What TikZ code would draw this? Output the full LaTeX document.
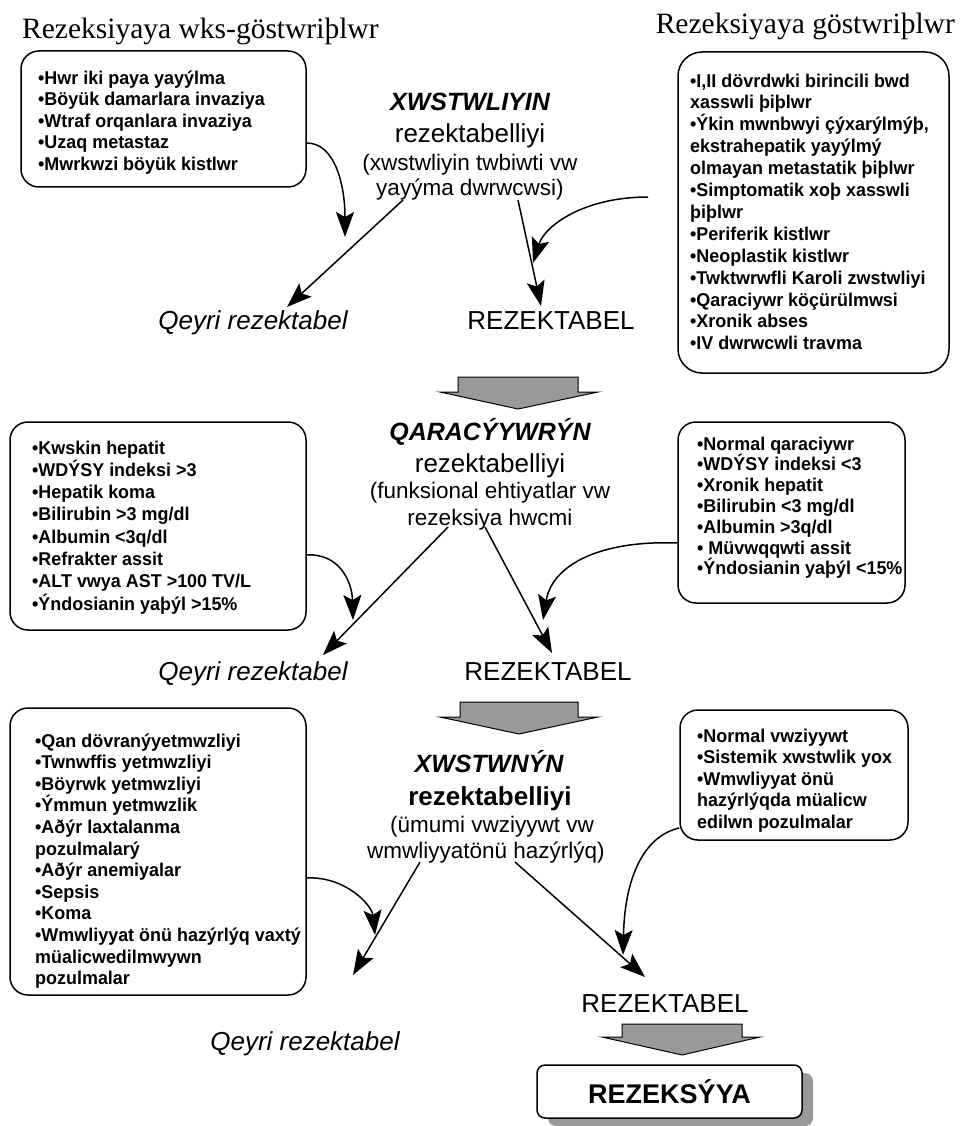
\documentclass[tikz,border=0pt]{standalone}
\usepackage{fontspec}
\setmainfont{Liberation Serif}
\newfontfamily\arial{Liberation Sans}
\newfontfamily\boxfont{Liberation Sans}[FakeStretch=0.97]
\usetikzlibrary{arrows.meta,shadows}
\definecolor{arrgray}{HTML}{999999}
\begin{document}
\begin{tikzpicture}[x=1pt,y=-1pt,
  frame/.style={draw, line width=1.5pt, rounded corners=18pt, inner sep=0pt},
  btext/.style={anchor=base west, align=left, inner sep=0pt, font=\boxfont\bfseries\fontsize{18.5}{21.6}\selectfont},
  hdr/.style={font=\fontsize{29.5}{34}\selectfont, inner sep=0pt},
  ttl/.style={anchor=base, inner sep=0pt, font=\arial\bfseries\itshape\fontsize{25}{30}\selectfont},
  sub/.style={anchor=base, inner sep=0pt, font=\arial\fontsize{26}{30}\selectfont},
  subb/.style={anchor=base, inner sep=0pt, font=\arial\bfseries\fontsize{26}{30}\selectfont},
  paren/.style={anchor=base, inner sep=0pt, font=\arial\fontsize{22.5}{26}\selectfont},
  lbl/.style={anchor=base, inner sep=0pt, font=\arial\fontsize{26}{30}\selectfont},
  qlbl/.style={anchor=base, inner sep=0pt, font=\arial\itshape\fontsize{26}{30}\selectfont},
  arr/.style={line width=1.5pt, -{Stealth[length=25pt,width=18pt,inset=5pt]}},
  blk/.style={draw=black, line width=1pt, fill=arrgray, line join=miter}
]
\fill[white] (0,0) rectangle (960,1126);
\useasboundingbox (0,0) rectangle (960,1126);

% headers
\node[hdr, anchor=base west] (h1) at (22,39) {Rezeksiyaya wks-göstwriþlwr};
\node[hdr, anchor=base east] (h2) at (955,34) {Rezeksiyaya göstwriþlwr};

% frames
\node[frame, minimum width=285pt, minimum height=136pt] (b1) at (163.5,119) {};
\node[frame, rounded corners=24pt, minimum width=271pt, minimum height=321pt] (b2) at (813.5,212.5) {};
\node[frame, minimum width=296pt, minimum height=208pt] (b3) at (158,526) {};
\node[frame, minimum width=227pt, minimum height=181pt] (b4) at (791.5,512.5) {};
\node[frame, minimum width=296pt, minimum height=287pt] (b5) at (158,851.5) {};
\node[frame, minimum width=228pt, minimum height=130pt] (b6) at (794,775) {};

% box texts (anchored at the baseline of their last line)
\node[btext] (b1t) at (38,170.4) {•Hwr iki paya yayýlma\\•Böyük damarlara invaziya\\•Wtraf orqanlara invaziya\\•Uzaq metastaz\\•Mwrkwzi böyük kistlwr};
\node[btext, font=\boxfont\bfseries\fontsize{18.5}{21.9}\selectfont] (b2t) at (690,349.8) {•I,II dövrdwki birincili bwd\\xasswli þiþlwr\\•Ýkin mwnbwyi çýxarýlmýþ,\\ekstrahepatik yayýlmý\\olmayan metastatik þiþlwr\\•Simptomatik xoþ xasswli\\þiþlwr\\•Periferik kistlwr\\•Neoplastik kistlwr\\•Twktwrwfli Karoli zwstwliyi\\•Qaraciywr köçürülmwsi\\•Xronik abses\\•IV dwrwcwli travma};
\node[btext, font=\boxfont\bfseries\fontsize{18.5}{22.3}\selectfont] (b3t) at (32,610.1) {•Kwskin hepatit\\•WDÝSY indeksi >3\\•Hepatik koma\\•Bilirubin >3 mg/dl\\•Albumin <3q/dl\\•Refrakter assit\\•ALT vwya AST >100 TV/L\\•Ýndosianin yaþýl >15\%};
\node[btext, font=\boxfont\bfseries\fontsize{18.5}{20.8}\selectfont] (b4t) at (697,574.8) {•Normal qaraciywr\\•WDÝSY indeksi <3\\•Xronik hepatit\\•Bilirubin <3 mg/dl\\•Albumin >3q/dl\\• Müvwqqwti assit\\•Ýndosianin yaþýl <15\%};
\node[btext] (b5t) at (35,984.6) {•Qan dövranýyetmwzliyi\\•Twnwffis yetmwzliyi\\•Böyrwk yetmwzliyi\\•Ýmmun yetmwzlik\\•Aðýr laxtalanma\\pozulmalarý\\•Aðýr anemiyalar\\•Sepsis\\•Koma\\•Wmwliyyat önü hazýrlýq vaxtý\\müalicwedilmwywn\\pozulmalar};
\node[btext] (b6t) at (697,828.4) {•Normal vwziyywt\\•Sistemik xwstwlik yox\\•Wmwliyyat önü\\hazýrlýqda müalicw\\edilwn pozulmalar};

% titles
\node[ttl] (t1) at (470,111) {XWSTWLIYIN};
\node[sub] (t1b) at (470,143) {rezektabelliyi};
\node[paren] (t1c) at (470,171) {(xwstwliyin twbiwti vw};
\node[paren] (t1d) at (470,196) {yayýma dwrwcwsi)};

\node[ttl] (t2) at (490,440) {QARACÝYWRÝN};
\node[sub] (t2b) at (490,472) {rezektabelliyi};
\node[paren] (t2c) at (490,498) {(funksional ehtiyatlar vw};
\node[paren] (t2d) at (490,525) {rezeksiya hwcmi};

\node[ttl] (t3) at (489,772) {XWSTWNÝN};
\node[subb] (t3b) at (490,805) {rezektabelliyi};
\node[paren] (t3c) at (492,832) {(ümumi vwziyywt vw};
\node[paren] (t3d) at (486,858) {wmwliyyatönü hazýrlýq)};

% outcome labels
\node[qlbl] (q1) at (253,329) {Qeyri rezektabel};
\node[lbl] (r1) at (551,329) {REZEKTABEL};
\node[qlbl] (q2) at (253,680) {Qeyri rezektabel};
\node[lbl] (r2) at (548,680) {REZEKTABEL};
\node[qlbl] (q3) at (305,1050) {Qeyri rezektabel};
\node[lbl] (r3) at (665,1012) {REZEKTABEL};

% final box
\node[draw, fill=white, line width=1.5pt, rounded corners=8pt, minimum width=265pt, minimum height=53pt,
      drop shadow={shadow xshift=11pt, shadow yshift=-8pt, opacity=1, fill=arrgray},
      font=\arial\bfseries\fontsize{27}{30}\selectfont] (rz) at (669.5,1091.5) {REZEKSÝYA};

% block arrows
\filldraw[blk] (458,377) -- (578,377) -- (578,392) -- (598,392) -- (518,409) -- (440,392) -- (458,392) -- cycle;
\filldraw[blk] (460,702) -- (578,702) -- (578,717) -- (598,717) -- (519,734) -- (440,717) -- (460,717) -- cycle;
\filldraw[blk] (622,1024) -- (742,1024) -- (742,1037) -- (760,1037) -- (682,1055) -- (602,1037) -- (622,1037) -- cycle;

% connector end points
\coordinate (s1a) at (403,200); \coordinate (e1a) at (287,307);
\coordinate (s1b) at (518,200); \coordinate (e1b) at (541,306);
\coordinate (e1c) at (345,237);
\coordinate (s1d) at (648,197); \coordinate (e1d) at (533,263);
\coordinate (s2a) at (448,527); \coordinate (e2a) at (323,655);
\coordinate (s2b) at (485,527); \coordinate (e2b) at (552,653);
\coordinate (e2c) at (353,620);
\coordinate (e2d) at (543,620);
\coordinate (s3a) at (420,862); \coordinate (e3a) at (353,975);
\coordinate (s3b) at (515,862); \coordinate (e3b) at (645,977);
\coordinate (e3c) at (375,935);
\coordinate (e3d) at (623,955);

% connectors
\draw[arr] (s1a) -- (e1a);
\draw[arr] (s1b) -- (e1b);
\draw[arr] (b1.east |- 0,143) .. controls (335,143) and (345,185) .. (e1c);
\draw[arr] (s1d) .. controls (585,197) and (545,225) .. (e1d);
\draw[arr] (s2a) -- (e2a);
\draw[arr] (s2b) -- (e2b);
\draw[arr] (b3.east |- 0,555) .. controls (338,553) and (352,580) .. (e2c);
\draw[arr] (b4.west |- 0,543) .. controls (600,540) and (552,565) .. (e2d);
\draw[arr] (s3a) -- (e3a);
\draw[arr] (s3b) -- (e3b);
\draw[arr] (b5.east |- 0,878) .. controls (345,876) and (372,905) .. (e3c);
\draw[arr] (b6.west |- 0,828) .. controls (648,835) and (625,870) .. (e3d);
\end{tikzpicture}
\end{document}
